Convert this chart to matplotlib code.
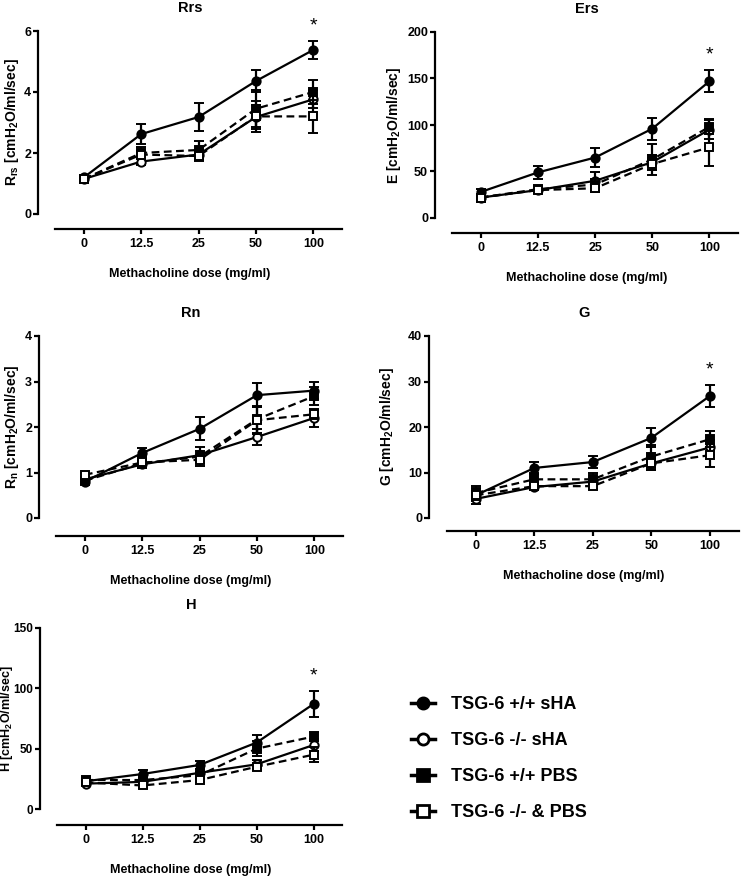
import numpy as np
import matplotlib
matplotlib.use("Agg")
import matplotlib.pyplot as plt
from matplotlib.lines import Line2D

plt.rcParams['font.family'] = ['Liberation Sans', 'DejaVu Sans']
plt.rcParams['font.weight'] = 'bold'
plt.rcParams['mathtext.fontset'] = 'custom'
plt.rcParams['mathtext.rm'] = 'Liberation Sans:bold'
plt.rcParams['mathtext.it'] = 'Liberation Sans:bold'
plt.rcParams['mathtext.bf'] = 'Liberation Sans:bold'

# ---- data ----
doses = ['0', '12.5', '25', '50', '100']
groups = ['TSG-6 +/+ sHA', 'TSG-6 -/- sHA', 'TSG-6 +/+ PBS', 'TSG-6 -/- & PBS']

rrs_mean = [[1.20, 2.62, 3.18, 4.36, 5.38],
            [1.15, 1.72, 1.95, 3.18, 3.76],
            [1.15, 2.00, 2.10, 3.45, 4.00],
            [1.15, 1.95, 1.90, 3.20, 3.20]]
rrs_err = [[0.05, 0.33, 0.46, 0.36, 0.29],
           [0.05, 0.10, 0.15, 0.40, 0.30],
           [0.05, 0.20, 0.30, 0.60, 0.40],
           [0.05, 0.10, 0.15, 0.50, 0.55]]

ers_mean = [[28, 49, 65, 96, 147],
            [22, 30, 40, 60, 95],
            [22, 31, 36, 63, 98],
            [22, 30, 32, 58, 76]]
ers_err = [[3, 7, 10, 12, 12],
           [2, 3, 9, 8, 10],
           [2, 3, 6, 17, 8],
           [2, 3, 4, 6, 20]]

rn_mean = [[0.80, 1.43, 1.96, 2.70, 2.80],
           [0.85, 1.18, 1.38, 1.78, 2.20],
           [0.82, 1.20, 1.35, 2.17, 2.68],
           [0.95, 1.22, 1.28, 2.15, 2.28]]
rn_err = [[0.05, 0.10, 0.25, 0.27, 0.18],
          [0.05, 0.05, 0.10, 0.17, 0.20],
          [0.05, 0.10, 0.20, 0.30, 0.20],
          [0.05, 0.05, 0.08, 0.30, 0.10]]

g_mean = [[5.0, 11.0, 12.3, 17.6, 26.8],
          [4.2, 6.8, 8.0, 12.0, 15.5],
          [5.5, 8.5, 8.5, 13.5, 17.3],
          [5.0, 7.0, 7.0, 12.0, 13.8]]
g_err = [[2.0, 1.2, 1.4, 2.1, 2.4],
         [0.5, 0.6, 0.8, 1.5, 1.7],
         [1.0, 1.2, 1.3, 2.5, 1.8],
         [1.0, 0.6, 0.6, 1.5, 2.5]]

h_mean = [[23, 29, 36.5, 55, 87],
          [21, 22.5, 30, 37, 53],
          [24, 24, 28, 50, 60],
          [22, 19.5, 24, 35, 45]]
h_err = [[1, 3, 3, 6, 11],
         [1, 2, 3, 4, 5],
         [1, 4, 3, 6, 4],
         [1, 2, 2, 3, 6]]

styles = [dict(marker='o', mfc='black', ls='-'),
          dict(marker='o', mfc='white', ls='-'),
          dict(marker='s', mfc='black', ls='--'),
          dict(marker='s', mfc='white', ls='--')]

W, H = 745, 877
fig = plt.figure(figsize=(W / 100, H / 100), dpi=100)


def panel(l, r, top, bot, title, ylabel, ymax, ystep, means, errs, star, ylab_px, spine_px,
          ylab_size=10, ytick_size=9):
    ax = fig.add_axes([l / W, 1 - bot / H, (r - l) / W, (bot - top) / H])
    x = np.arange(len(doses))
    for k in range(len(groups)):
        st = styles[k]
        ax.errorbar(x, means[k], yerr=errs[k], color='black', lw=1.6,
                    ls=st['ls'], dashes=(3.5, 2) if st['ls'] == '--' else (None, None),
                    marker=st['marker'], ms=6, mfc=st['mfc'], mec='black', mew=1.4,
                    ecolor='black', elinewidth=1.6, capsize=3.5, capthick=1.6,
                    clip_on=False, zorder=3 + k)
    if star:
        top_val = means[0][-1] + errs[0][-1]
        ax.text(4, top_val + ymax * 0.035, '*', ha='center', va='bottom',
                fontsize=14, fontweight='normal')
    ax.set_xlim(-0.8, 4.5)
    ax.set_ylim(0, ymax)
    ax.set_yticks(np.arange(0, ymax + ystep / 2, ystep))
    ax.set_xticks(x)
    ax.set_xticklabels(doses)
    for s in ['top', 'right']:
        ax.spines[s].set_visible(False)
    ax.spines['left'].set_linewidth(1.6)
    ax.spines['bottom'].set_linewidth(1.6)
    ax.spines['bottom'].set_position(('outward', spine_px * 0.72))
    ax.spines['bottom'].set_bounds(-0.5, 4.5)
    ax.tick_params(width=1.6, length=3.5, labelsize=9, pad=3)
    ax.tick_params(axis='y', pad=1.5, labelsize=ytick_size)
    for lab in ax.get_xticklabels() + ax.get_yticklabels():
        lab.set_fontweight('bold')
    ax.set_title(title, fontsize=10.5, fontweight='bold', pad=14)
    ax.set_xlabel('Methacholine dose (mg/ml)', fontsize=9, fontweight='bold', labelpad=13)
    ax.set_ylabel(ylabel, fontsize=ylab_size, fontweight='bold')
    ax.yaxis.set_label_coords((ylab_px - l) / (r - l), 0.5)
    return ax


panel(38, 342, 31, 214, 'Rrs', r'R$_{\mathrm{rs}}$ [cmH$_{\mathrm{2}}$O/ml/sec]', 6, 2,
      rrs_mean, rrs_err, True, 21, 15)
panel(435, 738, 32, 218, 'Ers', r'E [cmH$_{\mathrm{2}}$O/ml/sec]', 200, 50,
      ers_mean, ers_err, True, 403, 15)
panel(39, 343, 336, 518, 'Rn', r'R$_{\mathrm{n}}$ [cmH$_{\mathrm{2}}$O/ml/sec]', 4, 1,
      rn_mean, rn_err, False, 21, 18)
panel(429, 739, 336, 518, 'G', r'G [cmH$_{\mathrm{2}}$O/ml/sec]', 40, 10,
      g_mean, g_err, True, 396, 13)
panel(40, 342, 628, 809, 'H', r'H [cmH$_{\mathrm{2}}$O/ml/sec]', 150, 50,
      h_mean, h_err, True, 15, 16, ylab_size=9, ytick_size=8.5)

handles = []
for k in range(len(groups)):
    st = styles[k]
    handles.append(Line2D([], [], color='black', lw=2.5, ls='-', marker=st['marker'],
                          ms=8, mfc=st['mfc'], mec='black', mew=2))
fig.legend(handles, groups, loc='upper left', bbox_to_anchor=(395 / W, 1 - 680 / H),
           frameon=False, handlelength=1.3, handletextpad=0.9, labelspacing=1.05,
           prop={'weight': 'bold', 'size': 13})

fig.savefig('out.png', dpi=100)
